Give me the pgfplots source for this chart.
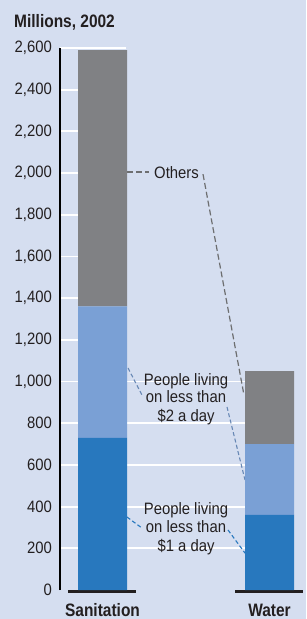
\documentclass[border=0pt]{standalone}
\usepackage{pgfplots}
\pgfplotsset{compat=1.18}
\usepackage{fontspec}
\setmainfont{Liberation Sans}[FakeStretch=0.9]
\newfontfamily\boldcond{Liberation Sans}[FakeStretch=0.86]
\definecolor{bg}{RGB}{213,222,240}
\definecolor{darkb}{RGB}{40,120,190}
\definecolor{lightb}{RGB}{122,160,213}
\definecolor{grayb}{RGB}{128,129,132}
\definecolor{txt}{RGB}{35,31,32}
\newcommand{\reg}{\fontsize{16.5}{18}\selectfont}
\newcommand{\bld}{\boldcond\fontsize{18}{18}\selectfont\bfseries}
\begin{document}
\begin{tikzpicture}
\fill[bg] (-60pt,-29pt) rectangle (246pt,590pt);
% grid lines (behind bars); 1 unit = 542/2600 pt
\foreach \v in {200,400,...,1000}{
  \draw[white, line width=1.8pt] (0pt,{\v*0.2084615pt}) -- (185pt,{\v*0.2084615pt});
}
\foreach \v in {1200,1400,...,2600}{
  \draw[white, line width=1.8pt] (0pt,{\v*0.2084615pt}) -- (66pt,{\v*0.2084615pt});
}
\begin{axis}[
  at={(0,0)}, anchor=south west,
  scale only axis, width=246pt, height=542pt,
  xmin=0, xmax=246, ymin=0, ymax=2600,
  axis line style={draw=none},
  xtick=\empty,
  ytick={0,200,...,2600},
  major tick length=0pt,
  scaled y ticks=false,
  yticklabel style={font=\reg, text=txt, inner sep=0pt, xshift=-8pt},
  /pgf/number format/.cd, 1000 sep={,}, assume math mode=true,
  /pgfplots/.cd,
  ybar stacked, bar width=49pt,
  clip=false,
]
\addplot[fill=darkb, draw=none] coordinates {(42.5,730) (209.5,360)};
\addplot[fill=lightb, draw=none] coordinates {(42.5,630) (209.5,340)};
\addplot[fill=grayb, draw=none] coordinates {(42.5,1230) (209.5,350)};
% axis and baselines
\draw[black, line width=1.3pt] (axis cs:0,0) -- (axis cs:0,2600);
\draw[txt, line width=3pt] (axis cs:8,-5) -- (axis cs:76,-5);
\draw[txt, line width=3pt] (axis cs:175,-5) -- (axis cs:243,-5);
% annotation leaders
\draw[grayb!85!black, line width=1.2pt, dash pattern=on 6pt off 3pt] (axis cs:67,2005) -- (axis cs:89,2005);
\draw[grayb!85!black, line width=1.2pt, dash pattern=on 6pt off 3pt] (axis cs:143,1995) -- (axis cs:184,935);
\draw[lightb!85!black, line width=1.1pt, dash pattern=on 4pt off 2.5pt] (axis cs:68,1065) -- (axis cs:82,935);
\draw[lightb!85!black, line width=1.1pt, dash pattern=on 4pt off 2.5pt] (axis cs:167,878) -- (axis cs:185,528);
\draw[darkb, line width=1.1pt, dash pattern=on 4pt off 2.5pt] (axis cs:67,350) -- (axis cs:82,297);
\draw[darkb, line width=1.1pt, dash pattern=on 4pt off 2.5pt] (axis cs:168,288) -- (axis cs:185,177);
\end{axis}
% annotation texts (tikz pt coordinates relative to axis origin)
\begin{scope}[every node/.style={inner sep=0pt, text=txt, anchor=base, font=\reg}]
\node at (116.5pt,411pt) {Others};
\node at (126pt,204pt) {People living};
\node at (126pt,187pt) {on less than};
\node at (126pt,168pt) {\$2 a day};
\node at (126pt,75pt) {People living};
\node at (126pt,58pt) {on less than};
\node at (126pt,39pt) {\$1 a day};
\end{scope}
\node[inner sep=0pt, anchor=base west, text=txt, font=\bld] at (-46pt,562pt) {Millions, 2002};
\node[inner sep=0pt, anchor=base, text=txt, font=\bld] at (42.5pt,-26.5pt) {Sanitation};
\node[inner sep=0pt, anchor=base, text=txt, font=\bld] at (209.5pt,-26.5pt) {Water};
\pgfresetboundingbox
\path (-60pt,-29pt) rectangle (246pt,590pt);
\end{tikzpicture}
\end{document}
